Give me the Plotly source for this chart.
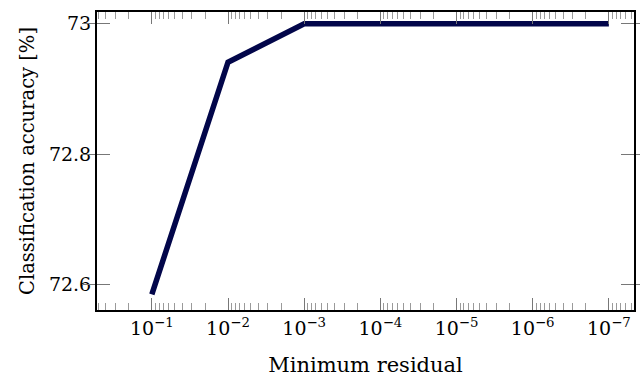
import numpy as np
import plotly.graph_objects as go

residuals = [1e-1, 1e-2, 1e-3, 1e-4, 1e-5, 1e-6, 1e-7]
accuracy = [72.585, 72.941, 73.0, 73.0, 73.0, 73.0, 73.0]

x_tickvals = [1e-1, 1e-2, 1e-3, 1e-4, 1e-5, 1e-6, 1e-7]
x_ticktext = ["10<sup>\u22121</sup>", "10<sup>\u22122</sup>", "10<sup>\u22123</sup>",
              "10<sup>\u22124</sup>", "10<sup>\u22125</sup>", "10<sup>\u22126</sup>",
              "10<sup>\u22127</sup>"]
y_tickvals = [72.6, 72.8, 73.0]
y_ticktext = ["72.6", "72.8", "73"]

xr = [-0.28, -7.33]
yr = [72.561, 73.018]

minor_exp = [np.log10(k) + e for e in range(-8, 1) for k in range(2, 10)]
minor_exp = [m for m in minor_exp if xr[1] <= m <= xr[0]]

FONT = "DejaVu Serif"

fig = go.Figure()
fig.add_trace(go.Scatter(x=residuals, y=accuracy, mode="lines",
                         line=dict(color="#02064a", width=5.5),
                         showlegend=False, xaxis="x", yaxis="y"))
fig.add_trace(go.Scatter(x=[np.log10(residuals[0])], y=[accuracy[0]], mode="markers",
                         marker=dict(opacity=0), showlegend=False,
                         hoverinfo="skip", xaxis="x2", yaxis="y"))

fig.update_layout(
    width=640, height=377,
    margin=dict(l=97, r=4, t=12, b=62),
    paper_bgcolor="white", plot_bgcolor="white",
    font=dict(family=FONT, size=19, color="black"),
    xaxis=dict(type="log", range=xr, tickmode="array", tickvals=x_tickvals,
               ticktext=x_ticktext, ticks="inside", ticklen=12, tickwidth=1.3,
               tickcolor="#777", showgrid=False, zeroline=False,
               showline=True, linecolor="black", linewidth=2, mirror="allticks",
               tickfont=dict(family=FONT, size=19),
               title=dict(text="Minimum residual", font=dict(family=FONT, size=21),
                          standoff=20)),
    xaxis2=dict(type="linear", range=xr, overlaying="x", anchor="y", side="bottom",
                tickmode="array", tickvals=minor_exp, ticktext=[""] * len(minor_exp),
                ticks="inside", ticklen=7, tickwidth=1.3, tickcolor="#9a9a9a",
                showticklabels=True, showgrid=False, zeroline=False,
                showline=True, linecolor="rgba(0,0,0,0)", linewidth=1,
                mirror="allticks"),
    yaxis=dict(range=yr, tickmode="array", tickvals=y_tickvals, ticktext=y_ticktext,
               ticks="inside", ticklen=13, tickwidth=1.3, tickcolor="#777",
               showgrid=False, zeroline=False, showline=True, linecolor="black",
               linewidth=2, mirror="allticks", tickfont=dict(family=FONT, size=19),
               title=dict(text="Classification accuracy [%]",
                          font=dict(family=FONT, size=19.5), standoff=9)),
)

fig.write_html("out.html")
